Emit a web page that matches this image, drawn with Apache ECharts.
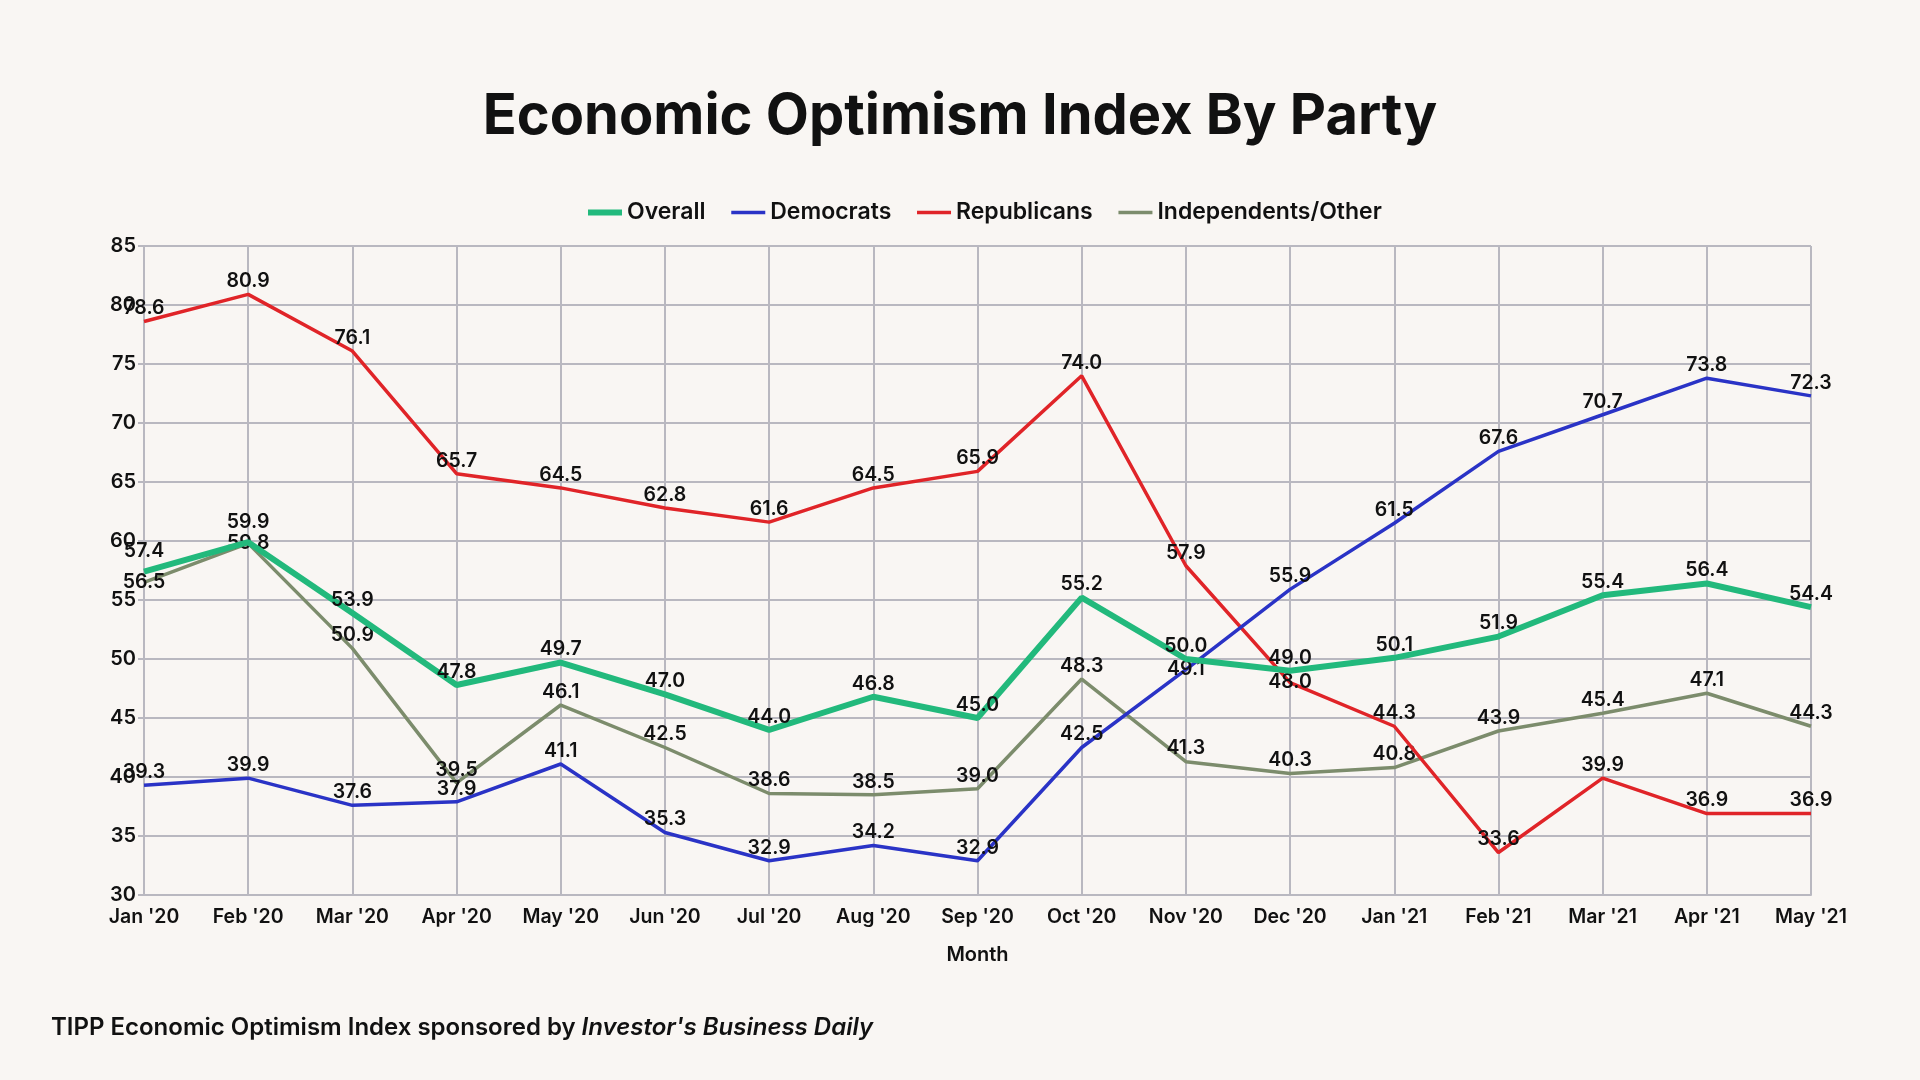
<!DOCTYPE html>
<html>
<head>
<meta charset="utf-8">
<script src="https://cdn.jsdelivr.net/npm/echarts@6/dist/echarts.min.js"></script>
<style>
html,body{margin:0;padding:0;background:#f9f6f3;}
#main{width:1920px;height:1080px;}
</style>
</head>
<body>
<div id="main"></div>
<script>
const months = ["Jan '20","Feb '20","Mar '20","Apr '20","May '20","Jun '20","Jul '20","Aug '20","Sep '20","Oct '20","Nov '20","Dec '20","Jan '21","Feb '21","Mar '21","Apr '21","May '21"];
const overall = [57.4,59.9,53.9,47.8,49.7,47.0,44.0,46.8,45.0,55.2,50.0,49.0,50.1,51.9,55.4,56.4,54.4];
const democrats = [39.3,39.9,37.6,37.9,41.1,35.3,32.9,34.2,32.9,42.5,49.1,55.9,61.5,67.6,70.7,73.8,72.3];
const republicans = [78.6,80.9,76.1,65.7,64.5,62.8,61.6,64.5,65.9,74.0,57.9,48.0,44.3,33.6,39.9,36.9,36.9];
const independents = [56.5,59.8,50.9,39.5,46.1,42.5,38.6,38.5,39.0,48.3,41.3,40.3,40.8,43.9,45.4,47.1,44.3];
const yMin = 30, yMax = 85, yStep = 5;
// indices whose labels sit on the point instead of above it (to avoid overlaps)
const centeredLabels = {
  'Democrats': [10],
  'Republicans': [11],
  'Independents/Other': [0, 1]
};
// indices whose labels are lifted a little higher
const raisedLabels = {
  'Overall': [0, 1]
};

const FONT = 'Inter';
const chart = echarts.init(document.getElementById('main'));

function mk(name, data, color, width, z){
  const centered = centeredLabels[name] || [];
  const raised = raisedLabels[name] || [];
  return {
    name: name, type: 'line', symbol: 'circle', symbolSize: 0.1, showSymbol: true, z: z,
    data: data.map((v, i) => {
      if (centered.indexOf(i) >= 0) return {value: v, label: {position: 'inside', offset: [0, 2]}};
      if (raised.indexOf(i) >= 0) return {value: v, label: {distance: 10}};
      return v;
    }),
    lineStyle: {color: color, width: width}, itemStyle: {color: color},
    label: {show: true, position: 'top', distance: 3, color: '#111', fontFamily: FONT,
      fontSize: 19.5, fontWeight: 600, formatter: p => p.value.toFixed(1)},
    labelLayout: {hideOverlap: false}
  };
}

chart.setOption({
  backgroundColor: '#f9f6f3',
  animation: false,
  title: [{
    text: 'Economic Optimism Index By Party', left: 'center', top: 84,
    textStyle: {fontFamily: FONT, fontSize: 56, fontWeight: 700, color: '#111'}
  }, {
    text: '{a|TIPP Economic Optimism Index sponsored by }{b|Investor\'s Business Daily}',
    left: 46, top: 1011,
    textStyle: {rich: {
      a: {fontFamily: FONT, fontSize: 24, fontWeight: 600, color: '#111'},
      b: {fontFamily: FONT, fontSize: 24, fontWeight: 600, fontStyle: 'italic', color: '#111'}
    }}
  }],
  legend: {
    top: 196, left: 580, itemGap: 24, itemWidth: 34, itemHeight: 14,
    itemStyle: {opacity: 0},
    textStyle: {fontFamily: FONT, fontSize: 23, fontWeight: 600, color: '#111'},
    data: [
      {name: 'Overall', lineStyle: {width: 6}},
      {name: 'Democrats', lineStyle: {width: 3.5}},
      {name: 'Republicans', lineStyle: {width: 3.5}},
      {name: 'Independents/Other', lineStyle: {width: 3.5}}
    ]
  },
  grid: {left: 144, right: 109, top: 246, bottom: 185},
  xAxis: {
    type: 'category', data: months, boundaryGap: false,
    name: 'Month', nameLocation: 'middle', nameGap: 50,
    nameTextStyle: {fontFamily: FONT, fontSize: 20, fontWeight: 600, color: '#111'},
    axisLine: {show: true, lineStyle: {color: '#b9b8c0', width: 2}},
    axisTick: {show: false},
    axisLabel: {fontFamily: FONT, fontSize: 19.5, fontWeight: 600, color: '#111', margin: 12},
    splitLine: {show: true, lineStyle: {color: '#b9b8c0', width: 2}}
  },
  yAxis: {
    type: 'value', min: yMin, max: yMax, interval: yStep,
    axisLine: {show: true, lineStyle: {color: '#b9b8c0', width: 2}},
    axisTick: {show: true, length: 6, lineStyle: {color: '#b9b8c0', width: 2}},
    axisLabel: {fontFamily: FONT, fontSize: 20, fontWeight: 600, color: '#111', margin: 8},
    splitLine: {show: true, lineStyle: {color: '#b9b8c0', width: 2}}
  },
  series: [
    mk('Overall', overall, '#22b97c', 6, 5),
    mk('Democrats', democrats, '#2a33c6', 3.5, 4),
    mk('Republicans', republicans, '#e02428', 3.5, 3),
    mk('Independents/Other', independents, '#7c8c6c', 3.5, 2)
  ]
});
</script>
</body>
</html>
